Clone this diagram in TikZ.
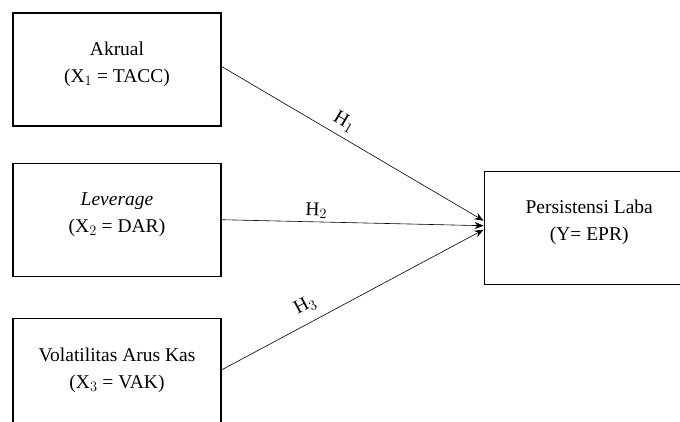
\documentclass[tikz,border=0pt]{standalone}
\usepackage{fontspec}
\setmainfont{Liberation Serif}
\usetikzlibrary{positioning, arrows.meta}

\begin{document}
\begin{tikzpicture} [
        x = 1pt, y = -1pt,
        node distance = 36pt,
        font = \fontsize{19.5}{27}\selectfont,
        var/.style = {rectangle, draw, line width=1.2pt, minimum width=208pt, minimum height=113pt, align=center, text depth=14pt},
        edge/.style = {draw, line width=0.6pt, -{Stealth[length=9pt, width=7pt]}},
        hyp/.style = {above, sloped, inner sep=3pt}
    ]

    \useasboundingbox (0,0) rectangle (680,421);
    \clip (0,0) rectangle (680,421);

    \node[var] at (117,69.5)                 (akrual) {Akrual\\(X$_1$ = TACC)};
    \node[var, below=     of akrual]          (leverage) {\textit{Leverage}\\(X$_2$ = DAR)};
    \node[var, below= 41pt of leverage]       (volatilitas) {Volatilitas Arus Kas\\(X$_3$ = VAK)};
    \node[var, minimum width=210pt, right= 262pt of leverage, yshift=-8pt] (laba) {Persistensi Laba\\(Y= EPR)};

    \path[edge] ([yshift=3pt]akrual.east) -- node[hyp, pos=0.44, inner sep=6pt] {H$_1$} ([yshift=7pt]laba.west);
    \path[edge] (leverage.east) -- node[hyp, pos=0.36] {H$_2$} ([yshift=2pt]laba.west);
    \path[edge] ([yshift=5pt]volatilitas.east) -- node[hyp, pos=0.35, inner sep=9pt] {H$_3$} ([yshift=-2pt]laba.west);

\end{tikzpicture}
\end{document}
